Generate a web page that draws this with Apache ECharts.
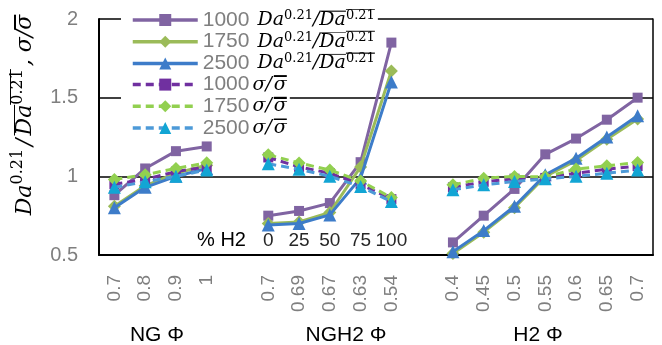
<!DOCTYPE html>
<html>
<head>
<meta charset="utf-8">
<script src="https://cdn.jsdelivr.net/npm/echarts@6/dist/echarts.min.js"></script>
<style>
  html, body { margin: 0; padding: 0; background: #fff; }
  #chart { width: 662px; height: 345px; }
</style>
</head>
<body>
<div id="chart"></div>
<script>
// categories: NG phi, gap, NGH2 phi, gap, H2 phi
const categories = ['0.7', '0.8', '0.9', '1', '', '0.7', '0.69', '0.67', '0.63', '0.54', '', '0.4', '0.45', '0.5', '0.55', '0.6', '0.65', '0.7'];
const pctH2Labels = ['', '', '', '', '% H2', '0', '25', '50', '75', '100', '', '', '', '', '', '', '', ''];
const groupTitles = ['NG Φ', 'NGH2 Φ', 'H2 Φ'];

const seriesNames = ['da1000', 'da1750', 'da2500', 'sg1000', 'sg1750', 'sg2500'];
const seriesLabels = ['1000', '1750', '2500', '1000', '1750', '2500'];

const da1000 = [0.88, 1.05, 1.16, 1.19, null, 0.75, 0.78, 0.83, 1.09, 1.85, null, 0.58, 0.75, 0.92, 1.14, 1.24, 1.36, 1.5];
const da1750 = [0.81, 0.94, 1.02, 1.07, null, 0.70, 0.71, 0.77, 1.06, 1.67, null, 0.51, 0.645, 0.80, 1.0, 1.10, 1.235, 1.365];
const da2500 = [0.80, 0.93, 1.0, 1.05, null, 0.69, 0.70, 0.755, 0.99, 1.60, null, 0.52, 0.655, 0.81, 1.01, 1.115, 1.25, 1.385];
const sg1000 = [0.95, 0.98, 1.03, 1.06, null, 1.12, 1.06, 1.02, 0.95, 0.855, null, 0.93, 0.965, 0.985, 0.99, 1.02, 1.045, 1.065];
const sg1750 = [0.98, 1.01, 1.05, 1.086, null, 1.137, 1.085, 1.04, 0.97, 0.865, null, 0.946, 0.988, 0.999, 0.997, 1.046, 1.067, 1.088];
const sg2500 = [0.93, 0.965, 1.0, 1.04, null, 1.08, 1.045, 1.0, 0.935, 0.84, null, 0.914, 0.946, 0.967, 0.984, 1.0, 1.02, 1.04];

const SANS = 'Liberation Sans, Arial, sans-serif';
const SERIF = 'DejaVu Serif, serif';
const GRAY = '#7f7f7f';

// top stripe used as an overline / bar accent
function bar(frac, color) {
  return {
    type: 'linear', x: 0, y: 0, x2: 0, y2: 1, global: false,
    colorStops: [
      { offset: 0, color: color }, { offset: frac, color: color },
      { offset: frac, color: 'rgba(0,0,0,0)' }, { offset: 1, color: 'rgba(0,0,0,0)' }
    ]
  };
}

const legendRich = {
  n: { fontFamily: SANS, fontSize: 21, color: GRAY, lineHeight: 22 },
  m: { fontFamily: SERIF, fontStyle: 'italic', fontSize: 19, color: '#000', lineHeight: 22 },
  p: { fontFamily: SERIF, fontStyle: 'italic', fontSize: 19, color: '#000', lineHeight: 22, padding: [0, 0, 0, 8] },
  q: { fontFamily: SERIF, fontStyle: 'italic', fontSize: 19, color: '#000', lineHeight: 22, padding: [0, 2, 0, 3] },
  s: { fontFamily: SERIF, fontSize: 13, color: '#000', lineHeight: 14, verticalAlign: 'top' },
  ob: { fontFamily: SERIF, fontStyle: 'italic', fontSize: 19, color: '#000', lineHeight: 22, backgroundColor: bar(1.4 / 22, '#444') },
  os: { fontFamily: SERIF, fontSize: 13, color: '#000', lineHeight: 14, verticalAlign: 'top', backgroundColor: bar(1.4 / 14, '#444') },
  sb: { fontFamily: SERIF, fontStyle: 'italic', fontSize: 19, color: '#000', lineHeight: 14, backgroundColor: bar(1.4 / 14, '#000') }
};

function legendText(i) {
  const num = '{n|' + seriesLabels[i] + '}';
  if (i < 3) return num + '{p|Da}{s|0.21}{m|/}{ob|Da}{os|0.21}';
  return num + '{q|σ/}{sb|σ}';
}

const yTitle = '{m|Da}{s|0.21}{sl|/}{ob|Da}{os|0.21}{cm|, σ/}{sb|σ}';
const yTitleRich = {
  m: { fontFamily: SERIF, fontStyle: 'italic', fontSize: 22, fill: '#000', lineHeight: 30 },
  sl: { fontFamily: SERIF, fontStyle: 'italic', fontSize: 22, fill: '#000', lineHeight: 30, padding: [0, 3, 0, 3] },
  cm: { fontFamily: SERIF, fontStyle: 'italic', fontSize: 22, fill: '#000', lineHeight: 30, padding: [0, 0, 0, 3] },
  s: { fontFamily: SERIF, fontSize: 16, fill: '#000', lineHeight: 17, verticalAlign: 'top' },
  ob: { fontFamily: SERIF, fontStyle: 'italic', fontSize: 22, fill: '#000', lineHeight: 30, backgroundColor: bar(1.5 / 30, '#000') },
  os: { fontFamily: SERIF, fontSize: 16, fill: '#000', lineHeight: 17, verticalAlign: 'top', backgroundColor: bar(1.5 / 17, '#000') },
  sb: { fontFamily: SERIF, fontStyle: 'italic', fontSize: 22, fill: '#000', lineHeight: 16, backgroundColor: bar(1.5 / 16, '#000') }
};

const styles = [
  { line: '#8064A2', mark: '#8064A2', symbol: 'rect', size: 10, dash: 'solid' },
  { line: '#9BBB59', mark: '#9BBB59', symbol: 'diamond', size: 13, dash: 'solid' },
  { line: '#3D7CC9', mark: '#3D7CC9', symbol: 'triangle', size: 13, dash: 'solid' },
  { line: '#7030A0', mark: '#7030A0', symbol: 'rect', size: 10, dash: [8, 5] },
  { line: '#92D050', mark: '#92D050', symbol: 'diamond', size: 13, dash: [8, 5] },
  { line: '#4D9AD8', mark: '#12A5D4', symbol: 'triangle', size: 13, dash: [8, 5] }
];
const values = [da1000, da1750, da2500, sg1000, sg1750, sg2500];

const chart = echarts.init(document.getElementById('chart'));

const option = {
  animation: false,
  backgroundColor: '#fff',
  grid: { left: 99, right: 9, top: 19, bottom: 90 },
  legend: seriesNames.map((name, i) => ({
    data: [name],
    selectedMode: false,
    orient: 'vertical',
    left: 121,
    top: 9 + i * 21.7,
    padding: [0, 3, 0, 10],
    backgroundColor: '#fff',
    itemWidth: 65,
    itemHeight: 15,
    lineStyle: { width: 3.5 },
    formatter: () => legendText(i),
    textStyle: { rich: legendRich }
  })),
  xAxis: [
    {
      type: 'category',
      data: categories,
      boundaryGap: true,
      axisLine: { lineStyle: { color: '#000', width: 2 } },
      axisTick: { inside: true, length: 5, alignWithLabel: true, interval: 0, lineStyle: { color: '#000', width: 1.5 } },
      axisLabel: { rotate: 90, interval: 0, margin: 20, color: GRAY, fontSize: 19, fontFamily: SANS },
      splitLine: { show: false }
    },
    {
      type: 'category',
      data: pctH2Labels,
      position: 'bottom',
      boundaryGap: true,
      axisLine: { show: false },
      axisTick: { show: false },
      axisLabel: {
        inside: true, interval: 0, margin: 5, color: '#262626', fontSize: 19, fontFamily: SANS,
        formatter: v => v === '% H2' ? '{h|' + v + '}' : v,
        rich: { h: { color: '#000', fontSize: 20, fontFamily: SANS, padding: [0, 32, 0, 0] } }
      },
      splitLine: { show: false }
    }
  ],
  yAxis: [
    {
      type: 'value',
      min: 0.5, max: 2, interval: 0.5,
      axisLine: { show: true, lineStyle: { color: '#000', width: 2 } },
      axisTick: { show: false },
      axisLabel: { color: GRAY, fontSize: 20, fontFamily: SANS, margin: 21 },
      splitLine: { lineStyle: { color: '#000', width: 1.5 } }
    },
    {
      type: 'value',
      position: 'right',
      min: 0.5, max: 2, interval: 0.5,
      axisLine: { show: true, lineStyle: { color: '#000', width: 1.5 } },
      axisTick: { show: false },
      axisLabel: { show: false },
      splitLine: { show: false }
    }
  ],
  graphic: [
    {
      type: 'text', x: 25, y: 115, rotation: Math.PI / 2,
      style: { text: yTitle, rich: yTitleRich, align: 'center', verticalAlign: 'middle' }
    },
    ...groupTitles.map((t, i) => ({
      type: 'text', x: [157, 346, 538][i], y: 335,
      style: { text: t, fill: '#000', fontSize: 21, fontFamily: SANS, align: 'center', verticalAlign: 'middle' }
    }))
  ],
  series: seriesNames.map((name, i) => ({
    name: name,
    type: 'line',
    data: values[i],
    connectNulls: false,
    symbol: styles[i].symbol,
    symbolSize: styles[i].size,
    itemStyle: { color: styles[i].mark },
    lineStyle: { color: styles[i].line, width: 3, type: styles[i].dash },
    z: 2 + i
  }))
};

chart.setOption(option);
</script>
</body>
</html>
